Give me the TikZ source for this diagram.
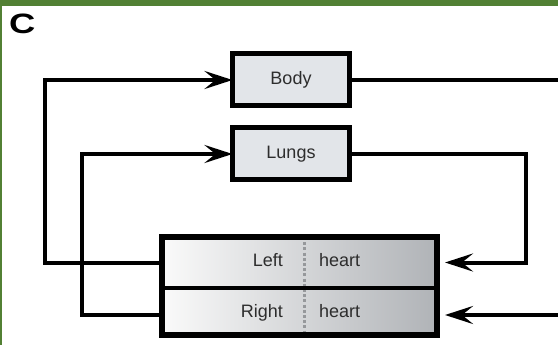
\documentclass[tikz,border=0pt]{standalone}
\usepackage{fontspec}
\setmainfont{Liberation Sans}
\usetikzlibrary{arrows.meta}
\definecolor{frame}{RGB}{82,128,52}
\definecolor{boxfill}{RGB}{226,229,233}
\definecolor{txt}{RGB}{45,45,45}
\definecolor{heartL}{RGB}{250,250,250}
\definecolor{heartR}{RGB}{176,179,183}
\definecolor{septum}{RGB}{150,152,155}
\begin{document}
\begin{tikzpicture}[x=1pt,y=-1pt,
  organ/.style={draw=black, line width=5pt, fill=boxfill, minimum width=117pt,
    minimum height=52pt, inner sep=0pt, outer sep=0pt,
    font=\fontsize{18}{21}\selectfont, text=txt},
  half/.style={draw=none, left color=heartL, right color=heartR,
    minimum width=275pt, inner sep=0pt, outer sep=0pt},
  word/.style={font=\fontsize{18}{21}\selectfont, text=txt, inner sep=0pt},
  conn/.style={line width=4pt, line cap=butt},
  flow/.style={conn, -{Stealth[length=28pt,width=18pt,inset=11pt]}}
]
\useasboundingbox (0,0) rectangle (558,345);
\fill[white] (0,0) rectangle (558,345);

% panel frame
\fill[frame] (0,0) rectangle (558,6);
\fill[frame] (0,0) rectangle (2,345);

% panel letter
\node[anchor=base west, inner sep=0pt, font=\fontsize{28}{30}\selectfont\bfseries]
  (panel) at (9,34) {\scalebox{1.3}[1]{C}};

% organs
\node[organ] (body)  at (291,80)  {Body};
\node[organ] (lungs) at (291,154) {Lungs};

% heart, split into left and right halves
\node[half, minimum height=51pt] (lh) at (299.5,262.5) {};
\node[half, minimum height=47pt] (rh) at (299.5,311.5) {};
\draw[septum, line width=3pt, dash pattern=on 3pt off 2.2pt] (lh.north) ++(4.5,0) coordinate (s1) -- (s1 |- rh.south);
\draw[line width=4pt] (lh.south west) -- (lh.south east);
\draw[line width=6pt] (lh.north west) rectangle (rh.south east);

\node[word, anchor=base east] (lt) at (283,266) {Left};
\node[word, anchor=base west] (lhr) at (319,266) {heart};
\node[word, anchor=base east] (rt) at (283,317) {Right};
\node[word, anchor=base west] (rhr) at (319,317) {heart};

% circulation
\coordinate (edgeIn)  at (560,315);
\coordinate (drop)    at (526,262.5);
\draw[flow] (lh.west) -- ++(-117,0) |- (body.west);
\draw[flow] ([yshift=-3pt]rh.west) -- ++(-80,0) |- (lungs.west);
\draw[conn] (body.east) -- (body.east -| edgeIn);
\draw[flow, shorten >=8pt] (lungs.east) -| (drop) -- (lh.east);
\draw[flow, shorten >=8pt] (edgeIn) -- (edgeIn -| rh.east);
\end{tikzpicture}
\end{document}
